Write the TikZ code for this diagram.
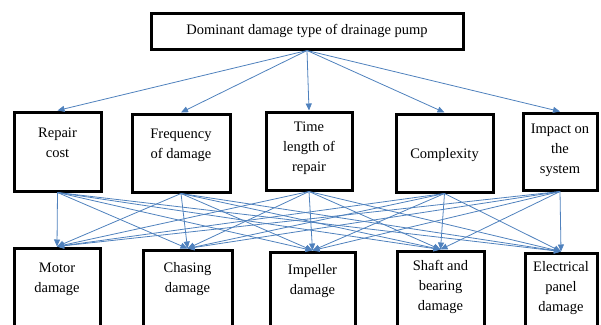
\documentclass[tikz,border=0pt]{standalone}
\usepackage{fontspec}
\setmainfont{Liberation Serif}
\usepackage{tikz}
\usetikzlibrary{arrows.meta,positioning}
\definecolor{ln}{RGB}{79,129,189}
\tikzset{
  box/.style={draw=black,line width=3pt,fill=white,inner sep=0pt},
  lbl/.style={align=center,font=\fontsize{14.5}{20}\selectfont},
  arr/.style={draw=ln,line width=0.8pt,-{Triangle[length=7pt,width=6pt]}}
}
\begin{document}
\begin{tikzpicture}[x=1pt,y=-1pt]
  \useasboundingbox (0,0) rectangle (601,324);

  % top
  \node[box,minimum width=312pt,minimum height=36pt] (top) at (307,31) {};
  \node[lbl] (top-t) at (top) {Dominant damage type of drainage pump};

  % criteria
  \node[box,minimum width=87pt,minimum height=79pt] (repair) at (57.5,151.5) {};
  \node[box,minimum width=98pt,minimum height=78pt] (freq) at (181,153) {};
  \node[box,minimum width=86pt,minimum height=78pt] (time) at (309,151) {};
  \node[box,minimum width=97pt,minimum height=78pt] (complex) at (444.5,153) {};
  \node[box,minimum width=74pt,minimum height=77pt] (impact) at (560,151.5) {};
  \node[lbl] (repair-t) at (57.5,143) {Repair\\cost};
  \node[lbl] (freq-t) at (181,145) {Frequency\\of damage};
  \node[lbl] (time-t) at (309,148) {Time\\length of\\repair};
  \node[lbl] (complex-t) at (444.5,155) {Complexity};
  \node[lbl] (impact-t) at (560,150) {Impact on\\the\\system};

  % damage types
  \node[box,minimum width=86pt,minimum height=100pt] (motor) at (57,298) {};
  \node[box,minimum width=89pt,minimum height=100pt] (chasing) at (187.5,300) {};
  \node[box,minimum width=85pt,minimum height=100pt] (impeller) at (312.5,302) {};
  \node[box,minimum width=87pt,minimum height=100pt] (shaft) at (440.5,301) {};
  \node[box,minimum width=72pt,minimum height=100pt] (elec) at (561,303) {};
  \node[lbl] (motor-t) at (57,279) {Motor\\damage};
  \node[lbl] (chasing-t) at (187.5,279) {Chasing\\damage};
  \node[lbl] (impeller-t) at (312.5,281) {Impeller\\damage};
  \node[lbl] (shaft-t) at (440.5,287) {Shaft and\\bearing\\damage};
  \node[lbl] (elec-t) at (561,288) {Electrical\\panel\\damage};

  \foreach \c in {repair,freq,time,complex,impact}
    \draw[arr] (top.south) -- (\c.north);
  \foreach \c in {repair,freq,time,complex,impact}
    \foreach \d in {motor,chasing,impeller,shaft,elec}
      \draw[arr] (\c.south) -- (\d.north);
\end{tikzpicture}
\end{document}
